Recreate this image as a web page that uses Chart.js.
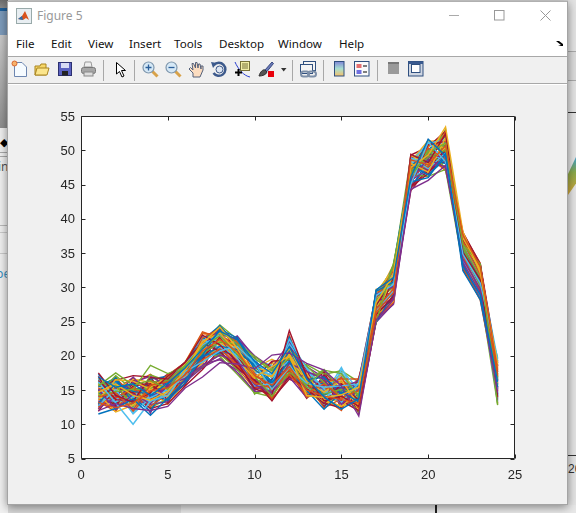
<!DOCTYPE html>
<html><head><meta charset="utf-8">
<script src="https://cdn.jsdelivr.net/npm/chart.js@4"></script>
<style>
html,body{margin:0;padding:0;width:576px;height:513px;overflow:hidden;background:#d8d8d8;}
#stage{position:absolute;left:0;top:0;width:576px;height:513px;overflow:hidden;}
.a{position:absolute;}
#win{left:7px;top:1px;width:561px;height:504px;background:#f0f0f0;box-sizing:border-box;border:1px solid #a4a4a4;border-top:1px solid #b0b0b0;box-shadow:0 2px 9px rgba(0,0,0,.45);}
.menu{position:absolute;top:36px;font:11.6px/16px "Noto Sans","Open Sans",sans-serif;color:#111;white-space:nowrap;}
svg{position:absolute;overflow:visible;}
.sep{position:absolute;top:60px;width:1px;height:21px;background:#a8a8a8;}
#chart{position:absolute;left:0;top:0;}
</style></head><body>
<div id="stage">
  <!-- windows behind -->
  <div class="a" style="left:0;top:0;width:8px;height:128px;background:linear-gradient(#6d6d6d,#d0d0d0 20%,#8f8f8f 100%)"></div>
  <div class="a" style="left:0;top:8px;width:8px;height:3px;background:#20609a"></div>
  <div class="a" style="left:0;top:11px;width:8px;height:24px;background:#7d9bbb"></div>
  <div class="a" style="left:0;top:128px;width:8px;height:385px;background:#f1f1f1"></div>
  <div class="a" style="left:0;top:152px;width:8px;height:3px;border-top:1px solid #aaa;border-bottom:1px solid #aaa"></div>
  <div class="a" style="left:0;top:225px;width:8px;height:1px;background:#bbb"></div>
  <div class="a" style="left:0;top:232px;width:8px;height:1px;background:#ccc"></div>
  <div class="a" style="left:0;top:253px;width:8px;height:1px;background:#ccc"></div>
  <div class="a" style="left:0;top:138px;font:11px/8px Arial;color:#000">◆</div>
  <div class="a" style="left:-2px;top:159px;width:10px;overflow:hidden;font:12px/16px 'Noto Sans';color:#555">in</div>
  <div class="a" style="left:-4px;top:266px;width:12px;overflow:hidden;font:12px/16px 'Noto Sans';color:#3a8fc0">pe</div>
  <div class="a" style="left:568px;top:0;width:8px;height:513px;background:#e4e4e4"></div>
  <div class="a" style="left:568px;top:51px;width:8px;height:28px;background:#dcdcdc;border-top:1px solid #aaa;border-bottom:1px solid #aaa"></div>
  <div class="a" style="left:568px;top:112px;width:8px;height:1px;background:#333"></div>
  <div class="a" style="left:568px;top:455px;width:8px;height:1px;background:#333"></div>
  <div class="a" style="left:568px;top:157px;width:8px;height:38px;background:linear-gradient(#3e9ecb,#89a84a 40%,#d4a63a);clip-path:polygon(0 100%,0 45%,100% 0,100% 70%)"></div>
  <div class="a" style="left:568px;top:461px;width:8px;overflow:hidden;font:12px/16px 'Liberation Sans';color:#333">20</div>
  <div class="a" style="left:181px;top:505px;width:395px;height:8px;background:#e8e8e8"></div>
  <div class="a" style="left:435px;top:505px;width:2px;height:8px;background:#222"></div>

  <div class="a" id="win"></div>
  <div class="a" style="left:8px;top:2px;width:559px;height:54px;background:#fff"></div>
  <div class="a" style="left:8px;top:56px;width:559px;height:1px;background:#a8a8a8"></div>
  <div class="a" style="left:8px;top:57px;width:559px;height:26px;background:#f0f0f0"></div>
  <div class="a" style="left:8px;top:83px;width:559px;height:1px;background:#a8a8a8"></div>
  <div class="a" style="left:8px;top:84px;width:559px;height:1px;background:#fff"></div>

  <!-- title -->
  <svg style="left:16px;top:8px" width="16" height="16"><rect x=".5" y=".5" width="15" height="15" fill="#e8eef2" stroke="#9aa"/><path d="M2 11 L6 8 L9 3 L13 12 L10 10 L7 12 Z" fill="#d9531e"/><path d="M2 11 L6 8 L7 12 Z" fill="#2a6fb0"/></svg>
  <div class="a" style="left:37px;top:8px;font:12px/16px 'Noto Sans';color:#999">Figure 5</div>
  <svg style="left:449px;top:10px" width="60" height="12"><path d="M0 5.5H10" stroke="#aaa"/><rect x="45.5" y=".5" width="9.5" height="9.5" fill="none" stroke="#999"/></svg>
  <svg style="left:540px;top:10px" width="11" height="11"><path d="M.5 .5L10.5 10.5M10.5 .5L.5 10.5" stroke="#999"/></svg>

  <!-- menu -->
  <span class="menu" style="left:16px">File</span>
  <span class="menu" style="left:51px">Edit</span>
  <span class="menu" style="left:88px">View</span>
  <span class="menu" style="left:129px">Insert</span>
  <span class="menu" style="left:174px">Tools</span>
  <span class="menu" style="left:219px">Desktop</span>
  <span class="menu" style="left:278px">Window</span>
  <span class="menu" style="left:339px">Help</span>
  <svg style="left:556px;top:41px" width="8" height="6"><path d="M0 0L3 0L7 3L7 0V5H2L5 4Z" fill="#000"/></svg>

  <!-- toolbar -->
  <svg style="left:11px;top:60px" width="17" height="18"><path d="M3.5 2.5H11L15.5 7V16.5H3.5Z" fill="#f6fbff" stroke="#6d86b0"/><circle cx="3.5" cy="3.5" r="2.5" fill="#f7b26a" stroke="#d9672e"/></svg>
  <svg style="left:34px;top:61px" width="16" height="16"><path d="M1 5H6L7 3H12V14H1Z" fill="#f6d666" stroke="#a88420"/><path d="M1 14L3 7H15L13 14Z" fill="#fbe58c" stroke="#a88420"/></svg>
  <svg style="left:58px;top:61px" width="15" height="16"><rect x=".5" y="1.5" width="13" height="13" fill="#5b62c0" stroke="#2c3070"/><rect x="3" y="2" width="8" height="5" fill="#d8dcf4"/><rect x="4" y="10" width="6" height="4.5" fill="#222"/></svg>
  <svg style="left:81px;top:61px" width="15" height="16"><path d="M4 1H10L11 6H3Z" fill="#eee" stroke="#999"/><rect x=".5" y="6.5" width="14" height="6" rx="2" fill="#a6a6a6" stroke="#777"/><rect x="3" y="11" width="9" height="4" fill="#ddd" stroke="#888"/></svg>
  <div class="sep" style="left:103px"></div>
  <svg style="left:116px;top:62px" width="10" height="16"><path d="M.5 .5V12L3.5 9.5L6 15L8 14L5.5 8.5H9.5Z" fill="#fff" stroke="#000"/></svg>
  <div class="sep" style="left:134px"></div>
  <svg style="left:142px;top:61px" width="17" height="17"><path d="M10 10L15.5 15.5" stroke="#d8a24a" stroke-width="3"/><circle cx="6.5" cy="6.5" r="5.5" fill="#d5e8f6" stroke="#7f97ad" stroke-width="1.2"/><path d="M3.5 6.5H9.5M6.5 3.5V9.5" stroke="#2b5f9a" stroke-width="1.3"/></svg>
  <svg style="left:165px;top:61px" width="17" height="17"><path d="M10 10L15.5 15.5" stroke="#d8a24a" stroke-width="3"/><circle cx="6.5" cy="6.5" r="5.5" fill="#d5e8f6" stroke="#7f97ad" stroke-width="1.2"/><path d="M3.5 6.5H9.5" stroke="#2b5f9a" stroke-width="1.3"/></svg>
  <svg style="left:188px;top:61px" width="16" height="17"><path d="M1 8L5 12V16H12L15 9V5L13 5V8L12 3H10.500L10 7L9 1.500H7.500L7.500 7L5.500 2.500H4L5 9L2.500 6.500Z" fill="#fbdcc0" stroke="#55617a"/></svg>
  <svg style="left:211px;top:61px" width="17" height="17"><path d="M3 4A6.500 6.500 0 1 1 2.500 12" fill="none" stroke="#3d5a8c" stroke-width="2.500"/><path d="M0 1L6 2L2 7Z" fill="#3d5a8c"/><circle cx="8.500" cy="8.500" r="3.500" fill="#dfe7f2" stroke="#3d5a8c"/></svg>
  <svg style="left:234px;top:61px" width="17" height="17"><path d="M1 1C4 8 10 15 16 16" fill="none" stroke="#2a3fd0"/><rect x="6.500" y=".5" width="9" height="9" fill="#f3eea6" stroke="#77703a"/><path d="M8 3H14M8 5H14M8 7H14" stroke="#77703a"/><path d="M4.500 8V15M1 11.500H8" stroke="#000" stroke-width="2"/></svg>
  <svg style="left:258px;top:61px" width="17" height="17"><path d="M7 9L14 1L15.500 2.500L9 10.500Z" fill="#6a7ab8" stroke="#3a4a80"/><path d="M1 15C2 11 5 8 7 9L9 11C8 14 4 15 1 15Z" fill="#555" stroke="#333"/><rect x="10" y="10" width="6" height="6" fill="#e8000b"/></svg>
  <svg style="left:281px;top:68px" width="6" height="4"><path d="M0 0H5.500L2.700 3.500Z" fill="#333"/></svg>
  <div class="sep" style="left:292px"></div>
  <svg style="left:300px;top:61px" width="17" height="17"><rect x="3.500" y=".5" width="12" height="9" fill="#f4f4f4" stroke="#2f4f7f"/><rect x=".5" y="3.500" width="12" height="9" fill="#f4f4f4" stroke="#2f4f7f"/><rect x="1" y="10.500" width="8" height="5" rx="2.500" fill="none" stroke="#7d8fa8" stroke-width="2"/><rect x="8" y="10.500" width="8" height="5" rx="2.500" fill="none" stroke="#7d8fa8" stroke-width="2"/></svg>
  <div class="sep" style="left:323px"></div>
  <svg style="left:334px;top:61px" width="11" height="16"><defs><linearGradient id="cb" x1="0" y1="0" x2="0" y2="1"><stop offset="0" stop-color="#7f86d8"/><stop offset=".5" stop-color="#a8e0d0"/><stop offset="1" stop-color="#f4c06a"/></linearGradient></defs><rect x=".5" y=".5" width="9.500" height="14.500" fill="url(#cb)" stroke="#2f4f7f"/></svg>
  <svg style="left:354px;top:61px" width="16" height="16"><rect x=".5" y=".5" width="14.500" height="14.500" fill="#fafafa" stroke="#2f4f7f"/><rect x="2.500" y="3" width="5" height="4" fill="#e56f6f"/><rect x="2.500" y="9" width="5" height="4" fill="#6f6fe0"/><path d="M9 5H13M9 11H13" stroke="#000"/></svg>
  <div class="sep" style="left:377px"></div>
  <svg style="left:388px;top:62px" width="13" height="14"><rect x="0" y="1" width="11" height="11" fill="#9a9a9a"/><rect x="0" y="0" width="11" height="2" fill="#777"/></svg>
  <svg style="left:408px;top:61px" width="16" height="16"><rect x=".5" y=".5" width="14.500" height="14.500" fill="#cfd6e2" stroke="#2f4f7f"/><rect x=".5" y=".5" width="14.500" height="2.500" fill="#3a5a90"/><rect x="3.500" y="3.500" width="8.500" height="8" fill="#fff" stroke="#2f4f7f"/></svg>

  <canvas id="chart" width="576" height="513"></canvas>
</div>
<script>
const hours = [1,2,3,4,5,6,7,8,9,10,11,12,13,14,15,16,17,18,19,20,21,22,23,24];
const xTicks = [0,5,10,15,20,25];
const yTicks = [5,10,15,20,25,30,35,40,45,50,55];
const palette = ['#0072BD','#D95319','#EDB120','#7E2F8E','#77AC30','#4DBEEE','#A2142F'];

const s01 = [16.9,15.4,15.9,14.2,16.0,18.2,21.0,23.6,22.3,19.2,17.4,21.3,16.7,14.0,12.2,13.7,29.6,31.4,46.1,51.6,49.2,33.1,28.9,16.2];
const s02 = [13.2,12.4,13.1,14.9,15.3,17.2,20.7,22.4,20.6,17.1,15.7,18.4,15.0,14.1,13.6,13.1,26.3,29.2,48.6,47.9,50.7,37.6,33.0,17.9];
const s03 = [14.7,15.9,14.2,13.5,14.8,17.9,21.8,24.2,21.1,16.9,18.4,20.0,14.2,13.9,14.3,15.4,27.7,31.9,47.5,49.3,53.4,38.1,32.1,18.8];
const s04 = [12.0,13.0,12.3,12.0,12.6,15.3,16.9,19.0,18.8,18.1,20.1,20.4,18.9,17.9,15.6,11.2,25.2,28.2,44.3,45.6,47.8,33.6,29.2,14.6];
const s05 = [15.6,17.5,15.7,16.4,15.1,18.6,21.3,22.9,20.2,17.0,14.1,17.6,15.7,17.9,17.4,14.0,24.9,33.5,46.2,49.7,51.0,36.2,33.4,12.8];
const s06 = [16.2,13.1,10.0,13.4,14.2,17.7,19.1,20.7,21.4,18.9,15.1,18.3,16.0,15.4,15.6,15.9,28.8,30.4,45.0,51.2,48.3,34.8,30.6,19.3];
const s07 = [17.5,14.2,13.2,14.6,17.0,19.0,23.0,21.6,19.0,15.2,14.3,23.7,17.0,13.4,14.1,12.6,26.0,28.7,49.4,48.2,52.4,35.1,31.1,14.0];
const s08 = [11.5,12.3,13.7,11.3,13.8,16.4,20.1,23.9,22.6,18.0,16.1,19.2,14.9,12.2,14.7,13.3,29.4,30.8,45.4,46.0,49.5,32.4,28.2,15.4];
const s09 = [14.0,14.6,12.1,15.7,16.2,17.4,19.4,21.0,18.7,16.0,15.3,17.2,14.5,15.9,13.9,14.9,26.8,29.8,47.2,50.3,48.7,36.6,31.8,17.1];
const s10 = [13.6,16.5,16.3,15.1,14.0,18.0,22.1,23.3,20.4,17.8,16.9,21.1,16.2,14.7,16.4,12.8,25.7,32.0,48.1,46.8,51.8,37.2,32.7,18.2];
const s11 = [15.1,12.1,14.4,13.0,15.7,16.7,18.6,20.1,19.3,15.8,14.6,18.9,17.7,16.6,12.9,15.1,27.0,28.4,45.8,48.7,47.5,34.1,29.8,13.5];
const s12 = [14.2,14.8,15.1,18.6,17.4,18.4,20.3,22.0,21.7,19.6,17.8,19.6,15.4,14.4,15.1,14.4,28.1,30.9,46.7,49.0,50.0,35.7,30.2,16.8];
const s13 = [12.7,15.1,11.5,13.9,15.0,17.0,21.6,23.0,19.7,15.6,15.9,22.4,18.1,15.1,13.2,16.0,26.6,29.5,48.9,47.3,49.6,33.9,28.8,15.0];
const s14 = [16.4,13.6,13.4,16.8,16.6,19.1,21.9,20.6,18.2,16.4,13.4,17.0,15.2,13.0,15.9,13.5,27.4,31.1,44.9,50.8,51.3,36.9,33.1,18.5];
const s15 = [13.0,16.0,14.8,14.4,13.5,16.0,19.8,21.4,20.9,18.5,16.3,20.7,16.5,16.9,14.5,15.7,24.9,29.0,47.8,46.4,48.9,35.4,30.9,14.3];
const s16 = [15.3,13.8,15.3,12.6,14.4,17.6,22.6,24.0,22.0,17.4,15.0,18.0,14.0,14.8,16.9,12.2,28.4,32.4,46.5,49.6,52.2,34.5,29.5,17.4];
const s17 = [14.4,11.8,12.8,15.4,16.9,18.8,20.9,22.2,19.5,16.7,17.1,19.9,17.4,13.6,12.6,14.7,25.9,28.0,49.2,48.0,50.4,37.0,32.4,16.0];
const s18 = [12.3,14.0,16.9,14.0,15.5,16.2,18.3,19.6,17.6,14.8,14.9,16.9,13.9,15.7,15.2,16.4,29.0,30.1,45.6,47.2,49.0,33.4,28.6,19.0];
const s19 = [16.0,15.7,12.6,17.2,16.3,17.3,21.2,23.4,21.9,19.9,18.0,20.9,18.5,16.1,14.0,13.9,27.2,33.0,47.0,50.0,47.4,36.0,31.4,15.7];
const s20 = [13.9,13.3,14.0,13.2,14.6,18.3,22.4,21.2,20.0,17.6,14.4,18.7,15.6,12.9,18.0,15.0,26.1,29.4,48.3,51.0,51.6,34.4,30.0,13.3];
const s21 = [17.0,12.8,15.6,15.9,13.9,15.8,19.6,22.7,18.9,15.4,16.6,17.8,13.8,17.2,13.4,12.0,24.9,31.6,44.6,46.6,49.9,37.9,33.2,17.6];
const s22 = [14.9,16.3,13.9,11.9,15.9,17.8,20.0,20.4,20.5,18.7,15.5,22.7,16.9,14.3,15.4,14.1,28.6,30.2,46.9,48.4,48.1,35.0,29.3,16.5];
const s23 = [12.5,14.4,11.9,14.7,17.2,19.0,23.5,22.6,21.3,16.2,13.8,19.0,15.3,16.3,16.6,16.6,25.4,27.8,47.4,47.6,52.7,32.9,28.1,14.9];
const s24 = [15.9,15.0,16.6,16.1,14.9,16.9,18.9,21.7,22.1,18.3,17.6,20.3,14.6,13.3,12.7,13.0,29.2,32.6,45.2,50.6,50.9,36.4,32.9,18.0];
const s25 = [13.4,12.6,13.6,12.9,13.3,16.6,21.5,23.8,19.1,15.0,16.0,16.7,17.2,15.0,15.8,15.6,27.9,28.9,49.0,48.9,49.3,35.9,31.2,15.9];
const s26 = [14.5,17.1,15.0,15.3,16.5,18.5,20.5,19.9,17.3,14.6,14.0,18.1,16.3,18.0,14.8,11.8,26.5,31.5,46.4,46.2,47.2,33.3,29.0,12.9];
const s27 = [16.6,13.9,12.4,14.1,15.2,17.1,22.8,22.1,20.8,19.3,16.7,21.7,18.3,14.6,17.0,14.6,28.2,30.6,48.0,49.9,51.4,37.4,32.5,19.5];
const s28 = [11.9,15.3,14.6,12.3,13.0,15.6,18.0,20.9,19.9,16.6,19.2,19.4,15.8,13.1,12.4,16.7,25.6,28.5,44.8,47.0,48.4,34.2,30.3,14.8];
const s29 = [15.4,16.8,13.0,16.6,17.0,19.0,22.3,24.4,21.5,18.8,15.4,18.6,14.4,16.7,15.0,13.6,27.5,33.2,47.7,50.1,52.0,36.7,32.2,13.7];
const s30 = [13.3,11.9,15.5,13.7,14.3,16.3,19.9,21.3,18.5,15.9,13.5,17.4,16.1,12.4,13.7,15.3,29.3,29.9,46.0,48.1,47.7,35.3,30.5,19.1];
const s31 = [14.8,15.6,12.9,15.0,15.8,18.1,21.1,22.8,21.0,17.3,16.4,20.2,15.9,15.2,16.1,12.4,26.9,31.3,48.4,51.4,50.2,33.7,28.4,16.6];
const s32 = [12.9,13.5,16.1,17.0,15.6,17.5,20.2,23.1,22.5,20.0,18.2,22.0,16.6,13.7,14.9,14.2,24.9,27.6,45.3,49.4,49.1,37.7,33.3,15.2];
const s33 = [16.1,14.9,14.1,12.4,13.7,16.8,18.4,20.3,18.0,14.5,15.2,16.8,18.7,17.3,17.8,16.2,28.0,30.0,47.3,47.7,51.1,34.6,29.6,17.7];
const s34 = [13.7,16.2,11.7,14.3,16.7,18.7,22.9,21.9,19.4,17.7,17.3,19.3,14.7,14.9,13.0,15.2,27.1,32.3,46.6,46.5,48.6,36.3,31.6,14.1];
const s35 = [15.0,12.6,16.0,15.6,14.1,15.9,19.3,24.3,20.7,16.3,13.9,21.5,17.9,12.6,16.2,11.6,25.1,28.8,49.3,50.5,52.8,32.6,28.3,18.4];
const s36 = [17.3,14.5,13.5,13.3,16.4,18.9,21.4,20.0,22.7,19.0,15.8,17.3,15.5,16.0,15.3,13.2,29.5,31.7,44.5,48.5,50.5,35.6,30.7,15.5];
const s37 = [12.2,16.7,14.3,16.3,15.4,17.0,23.2,23.2,21.2,15.5,14.7,23.0,16.4,13.8,12.0,16.8,26.2,29.6,47.9,49.2,47.0,37.3,32.8,13.1];
const s38 = [15.8,13.4,12.7,14.8,12.9,16.1,20.6,22.5,19.8,18.2,19.5,18.2,13.8,15.6,17.2,14.8,28.3,33.3,45.9,51.3,51.5,34.0,29.1,17.3];
const s39 = [14.1,15.2,15.8,11.6,17.1,19.0,18.8,19.4,17.9,16.8,14.2,20.6,17.6,17.0,14.2,12.9,25.3,27.5,48.8,46.9,49.8,36.1,33.0,16.3];
const s40 = [16.7,12.2,14.9,15.2,14.7,18.3,21.7,24.5,22.4,14.4,16.2,19.1,15.1,12.8,15.5,15.8,27.3,30.5,47.1,48.8,53.0,33.2,28.7,19.7];
const s41 = [13.1,14.7,13.3,13.6,15.9,16.5,19.5,21.1,20.3,19.4,18.6,17.9,18.2,14.2,18.3,13.4,26.7,31.0,46.3,50.2,48.0,35.2,31.0,14.5];
const s42 = [15.5,16.4,17.1,16.9,13.4,17.6,22.0,23.7,18.4,16.5,13.6,21.9,14.8,16.4,12.5,15.5,28.9,29.1,44.1,47.4,50.1,38.0,33.4,18.6];
const s43 = [14.6,13.0,15.4,14.5,15.1,17.3,20.4,22.9,20.1,17.2,15.6,19.8,16.8,15.3,14.6,14.5,27.6,30.3,47.6,49.5,50.8,35.8,31.3,16.7];
const s44 = [13.5,15.5,14.5,15.8,16.1,18.4,21.5,21.8,21.6,18.4,17.0,20.5,15.0,14.5,15.7,13.8,26.4,29.3,46.8,47.5,49.4,36.8,32.0,15.3];
const s45 = [15.2,14.1,13.8,13.1,14.5,16.6,19.2,23.5,19.6,16.1,14.8,18.5,17.1,13.5,13.5,15.0,28.7,31.8,48.2,50.9,51.9,34.7,30.1,18.1];
const s46 = [12.6,16.1,15.2,14.9,15.5,17.7,20.8,20.5,18.6,15.7,16.5,17.7,14.3,16.2,16.3,12.7,25.8,28.6,45.7,48.3,48.8,33.5,29.4,14.4];
const s47 = [16.3,13.2,12.2,16.0,16.8,18.6,22.5,23.6,22.2,18.6,15.2,21.2,16.0,15.5,14.4,16.3,29.1,32.8,49.1,49.1,52.5,37.5,32.6,17.2];
const s48 = [14.3,15.8,14.7,12.8,13.6,15.9,19.0,21.5,20.5,17.5,17.9,19.7,18.0,14.0,17.6,14.3,27.8,30.7,46.2,46.7,50.6,35.5,31.5,15.8];
const s49 = [13.8,12.9,16.4,15.5,17.3,18.0,21.9,22.3,19.2,16.9,13.7,16.6,15.4,17.6,13.1,13.1,26.0,29.7,47.4,51.1,49.7,36.5,30.8,16.9];
const s50 = [15.7,16.6,13.7,14.0,14.2,17.4,20.0,24.1,21.8,19.1,16.8,22.2,17.3,12.5,15.2,15.6,28.5,33.1,44.7,47.8,51.2,33.0,28.5,18.9];
const s51 = [12.8,14.3,15.9,17.3,15.3,16.4,18.5,20.2,18.3,15.1,15.6,18.8,14.1,15.8,16.7,14.0,27.2,31.2,48.5,48.6,47.3,37.8,33.5,13.9];
const s52 = [16.5,15.8,12.5,13.8,16.0,19.1,23.3,22.7,20.2,17.9,18.8,20.1,16.1,13.2,14.0,12.3,29.7,30.2,45.1,50.7,52.3,34.3,29.9,17.0];
const s53 = [14.1,13.7,14.6,16.5,14.9,17.2,21.3,21.3,22.9,19.8,14.5,17.5,18.4,16.8,15.9,16.1,25.5,28.3,47.0,46.1,50.3,36.2,31.9,15.1];
const s54 = [13.0,17.0,13.1,15.4,15.7,18.8,19.7,23.0,21.4,16.0,17.2,21.8,15.5,14.5,13.3,14.4,26.6,32.2,46.0,49.8,48.5,35.0,30.4,19.2];
const s55 = [15.9,12.5,15.0,12.2,16.5,16.0,22.7,20.8,19.0,18.9,15.9,18.3,13.9,15.0,17.5,13.0,28.0,29.2,48.7,47.1,51.7,37.1,32.3,14.2];
const s56 = [14.9,15.0,16.8,14.7,13.1,17.9,18.2,22.6,20.6,14.9,19.0,16.8,16.7,17.7,14.9,15.3,27.5,31.4,45.5,51.5,49.4,33.8,30.3,16.4];

const allSeries = [s01,s02,s03,s04,s05,s06,s07,s08,s09,s10,s11,s12,s13,s14,s15,s16,s17,s18,s19,s20,s21,s22,s23,s24,s25,s26,s27,s28,s29,s30,s31,s32,s33,s34,s35,s36,s37,s38,s39,s40,s41,s42,s43,s44,s45,s46,s47,s48,s49,s50,s51,s52,s53,s54,s55,s56];

const box = {
  id:'box',
  beforeDatasetsDraw(c){
    const a=c.chartArea,g=c.ctx;
    g.save();g.fillStyle='#fff';g.fillRect(a.left,a.top,a.right-a.left,a.bottom-a.top);g.restore();
  },
  afterDatasetsDraw(c){
    const a=c.chartArea,g=c.ctx,xs=c.scales.x,ys=c.scales.y,len=4;
    const L=Math.round(a.left)+.5,R=Math.round(a.right)-.5,T=Math.round(a.top)+.5,B=Math.round(a.bottom)-.5;
    g.save();g.strokeStyle='#262626';g.lineWidth=1;g.beginPath();
    g.rect(L,T,R-L,B-T);
    xTicks.forEach(v=>{const p=Math.round(xs.getPixelForValue(v))+.5;g.moveTo(p,B);g.lineTo(p,B-len);g.moveTo(p,T);g.lineTo(p,T+len);});
    yTicks.forEach(v=>{const p=Math.round(ys.getPixelForValue(v))+.5;g.moveTo(L,p);g.lineTo(L+len,p);g.moveTo(R,p);g.lineTo(R-len,p);});
    g.stroke();g.restore();
  }
};

new Chart(document.getElementById('chart'),{
  type:'line',
  data:{datasets:allSeries.map((vals,i)=>({
    data:vals.map((y,k)=>({x:hours[k],y})),
    borderColor:palette[i%palette.length],
    borderWidth:1.4,pointRadius:0,tension:0,fill:false,clip:false
  }))},
  options:{
    responsive:false,animation:false,devicePixelRatio:1,
    layout:{padding:{left:0,right:61,top:116,bottom:0}},
    plugins:{legend:{display:false},title:{display:false},tooltip:{enabled:false}},
    scales:{
      x:{type:'linear',min:0,max:25,
        afterFit(s){s.height=54.5;},
        afterBuildTicks(s){s.ticks=xTicks.map(value=>({value}));},
        grid:{display:false,drawTicks:false},border:{display:false},
        ticks:{color:'#262626',font:{family:'"Liberation Sans",Arial',size:13},padding:9,maxRotation:0,autoSkip:false}},
      y:{type:'linear',min:5,max:55,
        afterFit(s){s.width=81;},
        afterBuildTicks(s){s.ticks=yTicks.map(value=>({value}));},
        grid:{display:false,drawTicks:false},border:{display:false},
        ticks:{color:'#262626',font:{family:'"Liberation Sans",Arial',size:13},padding:6,labelOffset:1,autoSkip:false}}
    }
  },
  plugins:[box]
});
</script>
</body></html>
